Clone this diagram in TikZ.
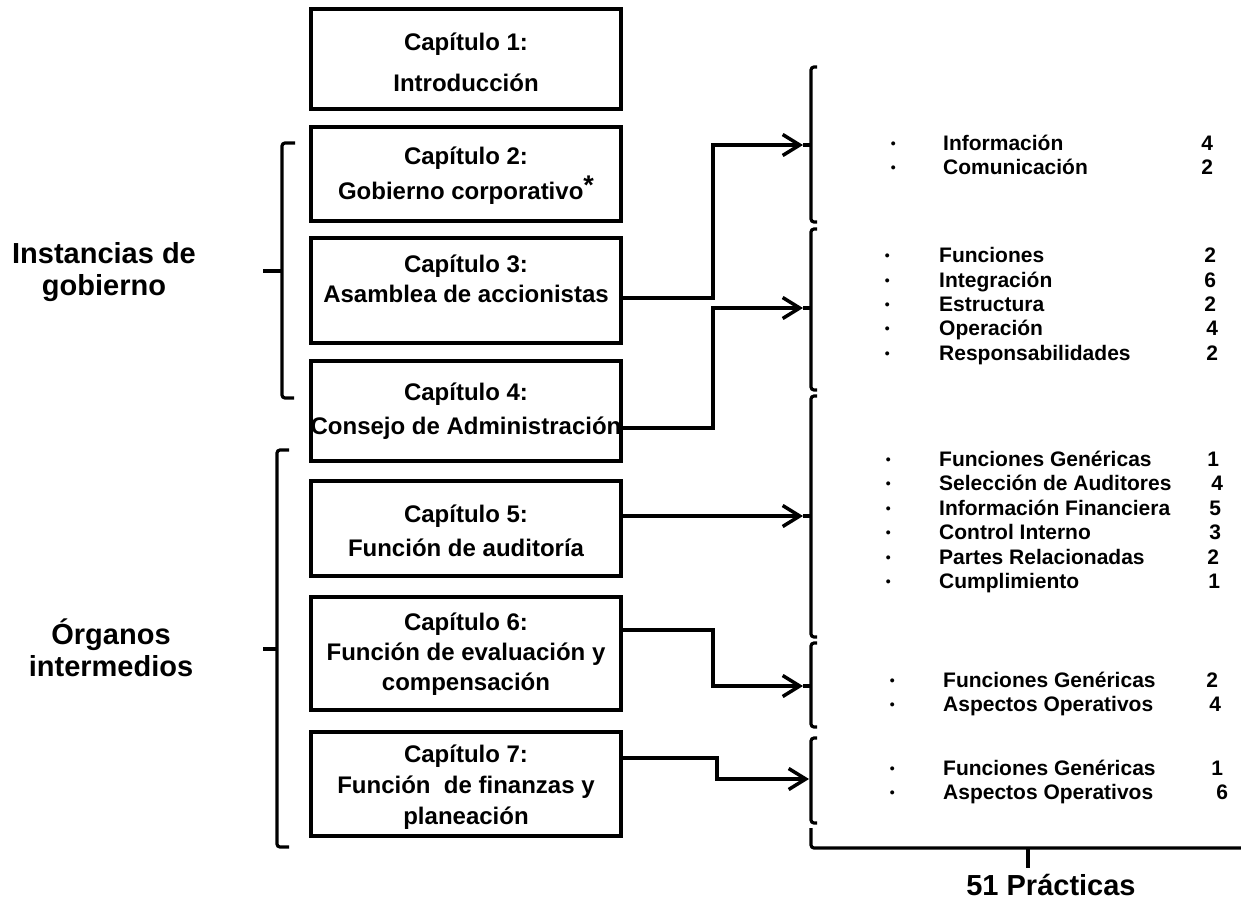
\documentclass[tikz,border=0pt]{standalone}
\usepackage{fontspec}
\setmainfont{Liberation Sans}
\usetikzlibrary{arrows.meta}
% one list row: small bullet, gap to text, text field width, centred count
\newcommand\lrow[4]{\makebox[0pt]{\raisebox{2pt}{\fontsize{14}{14}\selectfont\textbullet}}\hspace*{#1pt}\makebox[#2pt][l]{#3}\makebox[0pt]{#4}}
\begin{document}
\begin{tikzpicture}[x=1pt,y=-1pt,
  chbox/.style={draw, line width=4pt, inner sep=0pt, minimum width=310pt},
  chtext/.style={font=\bfseries\fontsize{24}{#1}\selectfont, align=center, inner sep=0pt},
  biglbl/.style={font=\bfseries\fontsize{29}{31.5}\selectfont, align=center, inner sep=0pt},
  lst/.style={font=\bfseries\fontsize{21}{24.4}\selectfont, align=left, inner sep=0pt, anchor=west},
  conn/.style={line width=3.5pt, -{Straight Barb[length=17pt,width=21pt]}},
  brk/.style={line width=3.2pt, rounded corners=3pt}]
\useasboundingbox (0,0) rectangle (1241,902);

% chapter boxes
\node[chbox, minimum height=100pt] (c1) at (466,59) {};
\node[chbox, minimum height=94pt]  (c2) at (466,174) {};
\node[chbox, minimum height=105pt] (c3) at (466,290.5) {};
\node[chbox, minimum height=100pt] (c4) at (466,411) {};
\node[chbox, minimum height=95pt]  (c5) at (466,528.5) {};
\node[chbox, minimum height=113pt] (c6) at (466,653.5) {};
\node[chbox, minimum height=104pt] (c7) at (466,784) {};

% chapter titles
\node[chtext=41] (t1) at (466,62) {Capítulo 1:\\Introducción};
\node[chtext=35] (t2) at (466,176) {Capítulo 2:\\Gobierno corporativo\raisebox{5pt}{\fontsize{27}{27}\selectfont *}};
\node[chtext=30] (t3) at (466,279) {Capítulo 3:\\Asamblea de accionistas};
\node[chtext=34] (t4) at (466,411) {Capítulo 4:\\Consejo de Administración};
\node[chtext=34] (t5) at (466,531) {Capítulo 5:\\Función de auditoría};
\node[chtext=30] (t6) at (466,654) {Capítulo 6:\\Función de evaluación y\\compensación};
\node[chtext=31] (t7) at (466,787) {Capítulo 7:\\Función\ \ de finanzas y\\planeación};

% left group brackets and labels
\draw[brk] (295,143) -- (282,143) -- (282,398) -- (294,398);
\draw[brk] (282,271) -- (263,271);
\draw[brk] (289,450) -- (277,450) -- (277,847) -- (289,847);
\draw[brk] (277,649) -- (263,649);
\node[biglbl] (lg1) at (104,272) {Instancias de\\gobierno};
\node[biglbl] (lg2) at (111,648) {Órganos\\intermedios};

% right brackets with their entry ticks
\draw[brk] (817,67) -- (811,67) -- (811,222) -- (817,222);
\draw[brk] (817,229) -- (811,229) -- (811,390) -- (817,390);
\draw[brk] (817,396) -- (811,396) -- (811,637) -- (817,637);
\draw[brk] (817,643) -- (811,643) -- (811,727) -- (817,727);
\draw[brk] (817,738) -- (811,738) -- (811,823) -- (817,823);
\coordinate (b1) at (803,145);
\coordinate (b2) at (803,308);
\coordinate (b3) at (803,516);
\coordinate (b4) at (803,686);
\coordinate (b5) at (809,779);
\draw[line width=3.2pt] (811,145) -- (b1);
\draw[line width=3.2pt] (811,308) -- (b2);
\draw[line width=3.2pt] (811,516) -- (b3);
\draw[line width=3.2pt] (811,686) -- (b4);

% connectors
\draw[conn] ([yshift=-7.5pt]c3.east) -- ++(90,0) |- (b1);
\draw[conn] ([yshift=-17pt]c4.east) -- ++(90,0) |- (b2);
\draw[conn] ([yshift=12.5pt]c5.east) -- (b3);
\draw[conn] ([yshift=23.5pt]c6.east) -- ++(90,0) |- (b4);
\draw[conn] ([yshift=26pt]c7.east) -- ++(94,0) |- (b5);

% practice lists
\node[lst] (g1) at (893,155) {\lrow{50}{264}{Información}{4}\\\lrow{50}{264}{Comunicación}{2}};
\node[lst] (g2) at (887,306) {\lrow{52}{271}{Funciones}{2}\\\lrow{52}{271}{Integración}{6}\\\lrow{52}{271}{Estructura}{2}\\\lrow{52}{273}{Operación}{4}\\\lrow{52}{273}{Responsabilidades}{2}};
\node[lst] (g3) at (888,522) {\lrow{51}{274}{Funciones Genéricas}{1}\\\lrow{51}{278}{Selección de Auditores}{4}\\\lrow{51}{276}{Información Financiera}{5}\\\lrow{51}{276}{Control Interno}{3}\\\lrow{51}{274}{Partes Relacionadas}{2}\\\lrow{51}{275}{Cumplimiento}{1}};
\node[lst] (g4) at (892,694) {\lrow{51}{269}{Funciones Genéricas}{2}\\\lrow{51}{272}{Aspectos Operativos}{4}};
\node[lst] (g5) at (892,782) {\lrow{51}{274}{Funciones Genéricas}{1}\\\lrow{51}{279}{Aspectos Operativos}{6}};

% total brace
\draw[brk] (811,828) -- (811,848) -- (1245,848);
\draw[brk] (1028,848) -- (1028,868);
\node[biglbl] (tot) at (1051,885) {51 Prácticas};
\end{tikzpicture}
\end{document}
